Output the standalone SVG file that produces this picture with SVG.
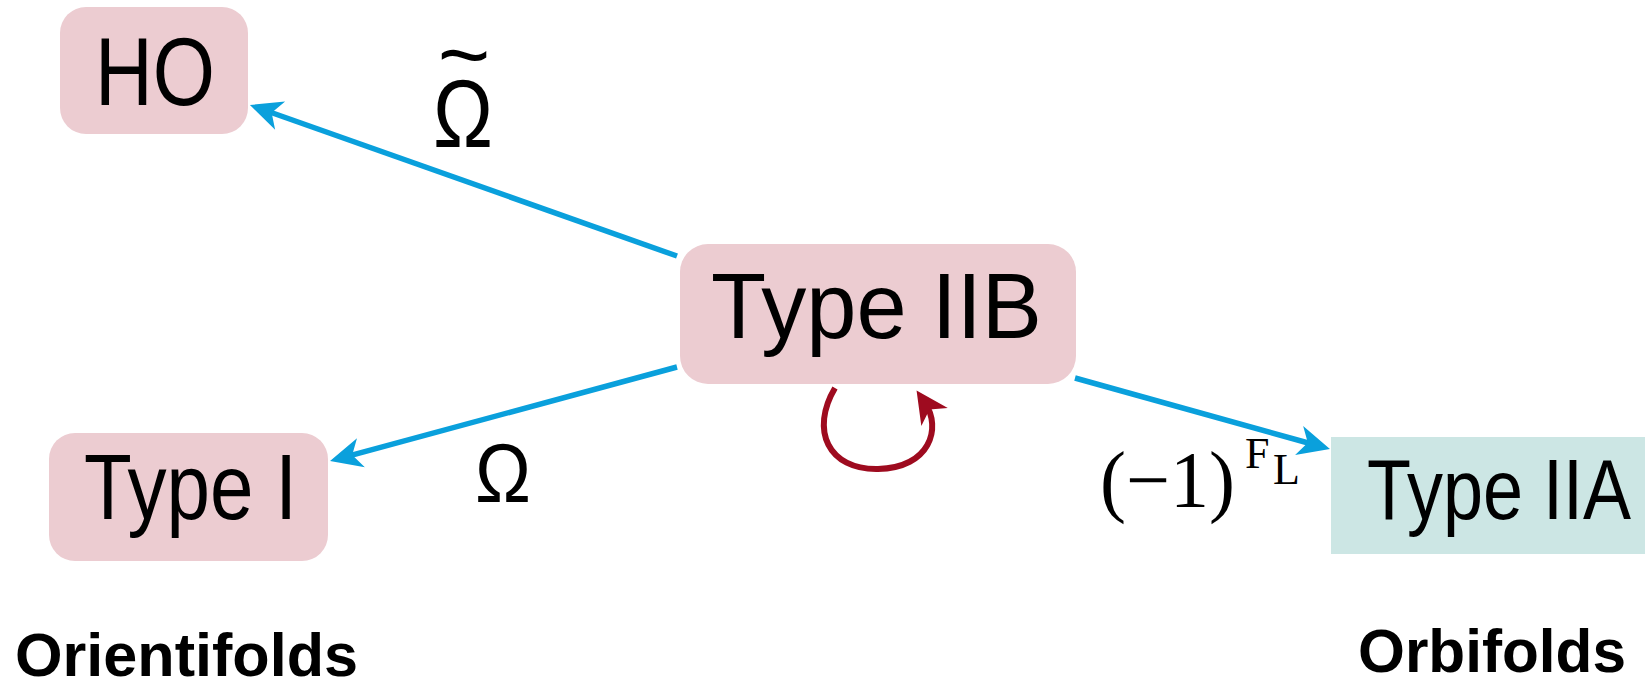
<svg xmlns="http://www.w3.org/2000/svg" width="1645" height="684" viewBox="0 0 1645 684">
<style>
.pink{fill:#ecccd1}
.teal{fill:#cce6e4}
.lbl{font-family:"Liberation Sans",Arial,sans-serif;fill:#000}
.math{font-family:"Liberation Serif","Times New Roman",serif;fill:#000}
.bold{font-family:"Liberation Sans",Arial,sans-serif;font-weight:bold;fill:#000}
.blue{stroke:#0aa0dc;stroke-width:5.5;fill:none}
.red{stroke:#9e0b1f;stroke-width:6;fill:none}
</style>
<defs>
<marker id="ab" markerUnits="userSpaceOnUse" viewBox="-18 -16 35 32" markerWidth="35" markerHeight="32" refX="0" refY="0" orient="auto">
<path d="M15,0 L-17,-15 L-8,0 L-17,15 Z" fill="#0aa0dc"/>
</marker>
<marker id="ar" markerUnits="userSpaceOnUse" viewBox="-18 -17 35 34" markerWidth="35" markerHeight="34" refX="0" refY="0" orient="auto">
<path d="M15,0 L-17,-16 L-8,0 L-17,16 Z" fill="#9e0b1f"/>
</marker>
</defs>
<rect width="1645" height="684" fill="#fff"/>
<g id="connectors">
<line class="blue" x1="677" y1="256" x2="264.1" y2="110" marker-end="url(#ab)"/>
<line class="blue" x1="677" y1="367" x2="344.5" y2="457.1" marker-end="url(#ab)"/>
<line class="blue" x1="1075" y1="378" x2="1315.5" y2="445" marker-end="url(#ab)"/>
<path class="red" d="M835,388 C810,430 828,470 878,469 C930,468 942,428 925,403" marker-end="url(#ar)"/>
<text class="lbl" x="464" y="86" font-size="90" text-anchor="middle">~</text>
<text class="lbl" x="463" y="147" font-size="96" text-anchor="middle" textLength="60" lengthAdjust="spacingAndGlyphs">Ω</text>
<text class="lbl" x="503" y="502" font-size="84" text-anchor="middle" textLength="56" lengthAdjust="spacingAndGlyphs">Ω</text>
<text class="math" x="1100" y="507" font-size="80" textLength="135" lengthAdjust="spacingAndGlyphs">(−1)</text>
<text class="math" x="1245" y="468" font-size="44">F</text>
<text class="math" x="1273" y="484" font-size="44">L</text>
</g>
<g id="node-HO">
<rect class="pink" x="60" y="7" width="188" height="127" rx="26"/>
<text class="lbl" x="95" y="105" font-size="96" textLength="120" lengthAdjust="spacingAndGlyphs">HO</text>
</g>
<g id="node-TypeIIB">
<rect class="pink" x="680" y="244" width="396" height="140" rx="28"/>
<text class="lbl" x="711" y="338" font-size="92" textLength="331" lengthAdjust="spacingAndGlyphs">Type IIB</text>
</g>
<g id="node-TypeI">
<rect class="pink" x="49" y="433" width="279" height="128" rx="26"/>
<text class="lbl" x="84" y="519" font-size="92" textLength="213" lengthAdjust="spacingAndGlyphs">Type I</text>
</g>
<g id="node-TypeIIA">
<rect class="teal" x="1331" y="437" width="314" height="117"/>
<text class="lbl" x="1367" y="519" font-size="86" textLength="264" lengthAdjust="spacingAndGlyphs">Type IIA</text>
</g>
<g id="captions">
<text class="bold" x="15" y="676" font-size="62" textLength="343" lengthAdjust="spacingAndGlyphs">Orientifolds</text>
<text class="bold" x="1358" y="672" font-size="62" textLength="268" lengthAdjust="spacingAndGlyphs">Orbifolds</text>
</g>
</svg>
